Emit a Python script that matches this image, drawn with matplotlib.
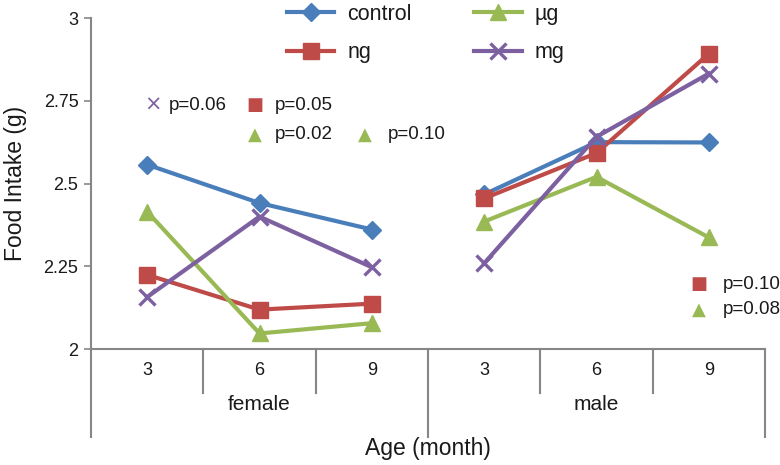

# Step 1 - Imports
import matplotlib.pyplot as plt
import matplotlib.transforms as mtransforms

# Step 2 (food intake in g)
GROUPS = ["female", "male"]
AGES = ["3", "6", "9"]

control = [2.557, 2.441, 2.361, 2.467, 2.625, 2.624]
ng = [2.224, 2.119, 2.137, 2.455, 2.592, 2.892]
ug = [2.415, 2.047, 2.078, 2.385, 2.520, 2.337]
mg = [2.157, 2.400, 2.247, 2.259, 2.641, 2.832]

# p-value notes: symbol, colour, text, symbol x, text x (category units), y value
NOTE_SYMBOLS = ["×", "■", "▲", "▲", "■", "▲"]
NOTE_COLORS = ["#7D60A0", "#BE4B48", "#98B954", "#98B954", "#BE4B48", "#98B954"]
NOTE_TEXTS = ["p=0.06", "p=0.05", "p=0.02", "p=0.10", "p=0.10", "p=0.08"]
NOTE_SYM_X = [0.55, 1.46, 1.46, 2.44, 5.41, 5.41]
NOTE_TEXT_X = [0.69, 1.64, 1.64, 2.64, 5.62, 5.62]
NOTE_Y = [2.737, 2.737, 2.647, 2.647, 2.196, 2.118]

# Step 2.5 - Colours and markers (Excel 2007 style)
SERIES = [
    ("control", control, "#4A7EBB", "D", 9),
    ("ng", ng, "#BE4B48", "s", 11),
    ("µg", ug, "#98B954", "^", 11),
    ("mg", mg, "#7D60A0", "x", 11),
]
AXIS_COLOR = "#868686"
TEXT_COLOR = "#1a1a1a"

plt.rcParams["font.family"] = ["Liberation Sans", "DejaVu Sans"]

# Step 3 - Figure and axes in pixel-ish layout
fig = plt.figure(figsize=(7.8, 4.65), dpi=100)
ax = fig.add_axes([91 / 780, (465 - 349) / 465, 674 / 780, 331 / 465])

n_per_group = len(AGES)
for name, values, color, marker, size in SERIES:
    for g in range(len(GROUPS)):
        xs = [g * n_per_group + i + 0.5 for i in range(n_per_group)]
        ys = values[g * n_per_group:(g + 1) * n_per_group]
        ax.plot(xs, ys, color=color, lw=3, marker=marker, ms=size,
                mew=2.4 if marker == "x" else 1,
                label=name if g == 0 else None, clip_on=False)

ax.set_xlim(0, len(GROUPS) * n_per_group)
ax.set_ylim(2, 3)
ax.set_yticks([2, 2.25, 2.5, 2.75, 3])
ax.set_yticklabels(["2", "2.25", "2.5", "2.75", "3"])
ax.tick_params(axis="y", direction="out", length=5, width=1.2,
               color=AXIS_COLOR, labelsize=13, labelcolor=TEXT_COLOR, pad=4)

# x tick labels: ages repeated per group
ax.set_xticks([i + 0.5 for i in range(len(GROUPS) * n_per_group)])
ax.set_xticklabels(AGES * len(GROUPS))
ax.tick_params(axis="x", length=0, labelsize=13, labelcolor=TEXT_COLOR, pad=9)

for side in ["top", "right"]:
    ax.spines[side].set_visible(False)
for side in ["left", "bottom"]:
    ax.spines[side].set_color(AXIS_COLOR)
    ax.spines[side].set_linewidth(1.5)

# Step 4 - Multi-level category axis (separators and group names)
trans = mtransforms.blended_transform_factory(ax.transData, ax.transAxes)
for k in range(len(GROUPS) * n_per_group + 1):
    bottom = -0.266 if k % n_per_group == 0 else -0.133
    ax.plot([k, k], [0, bottom], color=AXIS_COLOR, lw=1.5,
            transform=trans, clip_on=False)
for g, group in enumerate(GROUPS):
    ax.text(g * n_per_group + n_per_group / 2, -0.168, group, transform=trans,
            ha="center", va="center", fontsize=15, color=TEXT_COLOR)

ax.text(len(GROUPS) * n_per_group / 2, -0.300, "Age (month)", transform=trans,
        ha="center", va="center", fontsize=16.5, color=TEXT_COLOR)
fig.text(16 / 780, (465 - 183) / 465, "Food Intake (g)", rotation=90,
         ha="center", va="center", fontsize=16.5, color=TEXT_COLOR)

# Step 5 - p-value notes
for sym, color, label, sx, tx, y in zip(NOTE_SYMBOLS, NOTE_COLORS, NOTE_TEXTS,
                                        NOTE_SYM_X, NOTE_TEXT_X, NOTE_Y):
    ax.text(sx, y, sym, color=color, fontsize=15 if sym == "×" else 13,
            ha="center", va="center", family="DejaVu Sans")
    ax.text(tx, y, label, color=TEXT_COLOR, fontsize=13.5,
            ha="left", va="center")

# Step 6 - Legend on top
fig.legend(loc="upper left", bbox_to_anchor=(287 / 780, (465 - 4) / 465),
           ncol=2, frameon=False, fontsize=15.5, handlelength=2.2,
           handletextpad=0.6, columnspacing=2.9, labelspacing=0.8,
           borderpad=0, borderaxespad=0, labelcolor=TEXT_COLOR)

fig.savefig("out.png", dpi=100)
